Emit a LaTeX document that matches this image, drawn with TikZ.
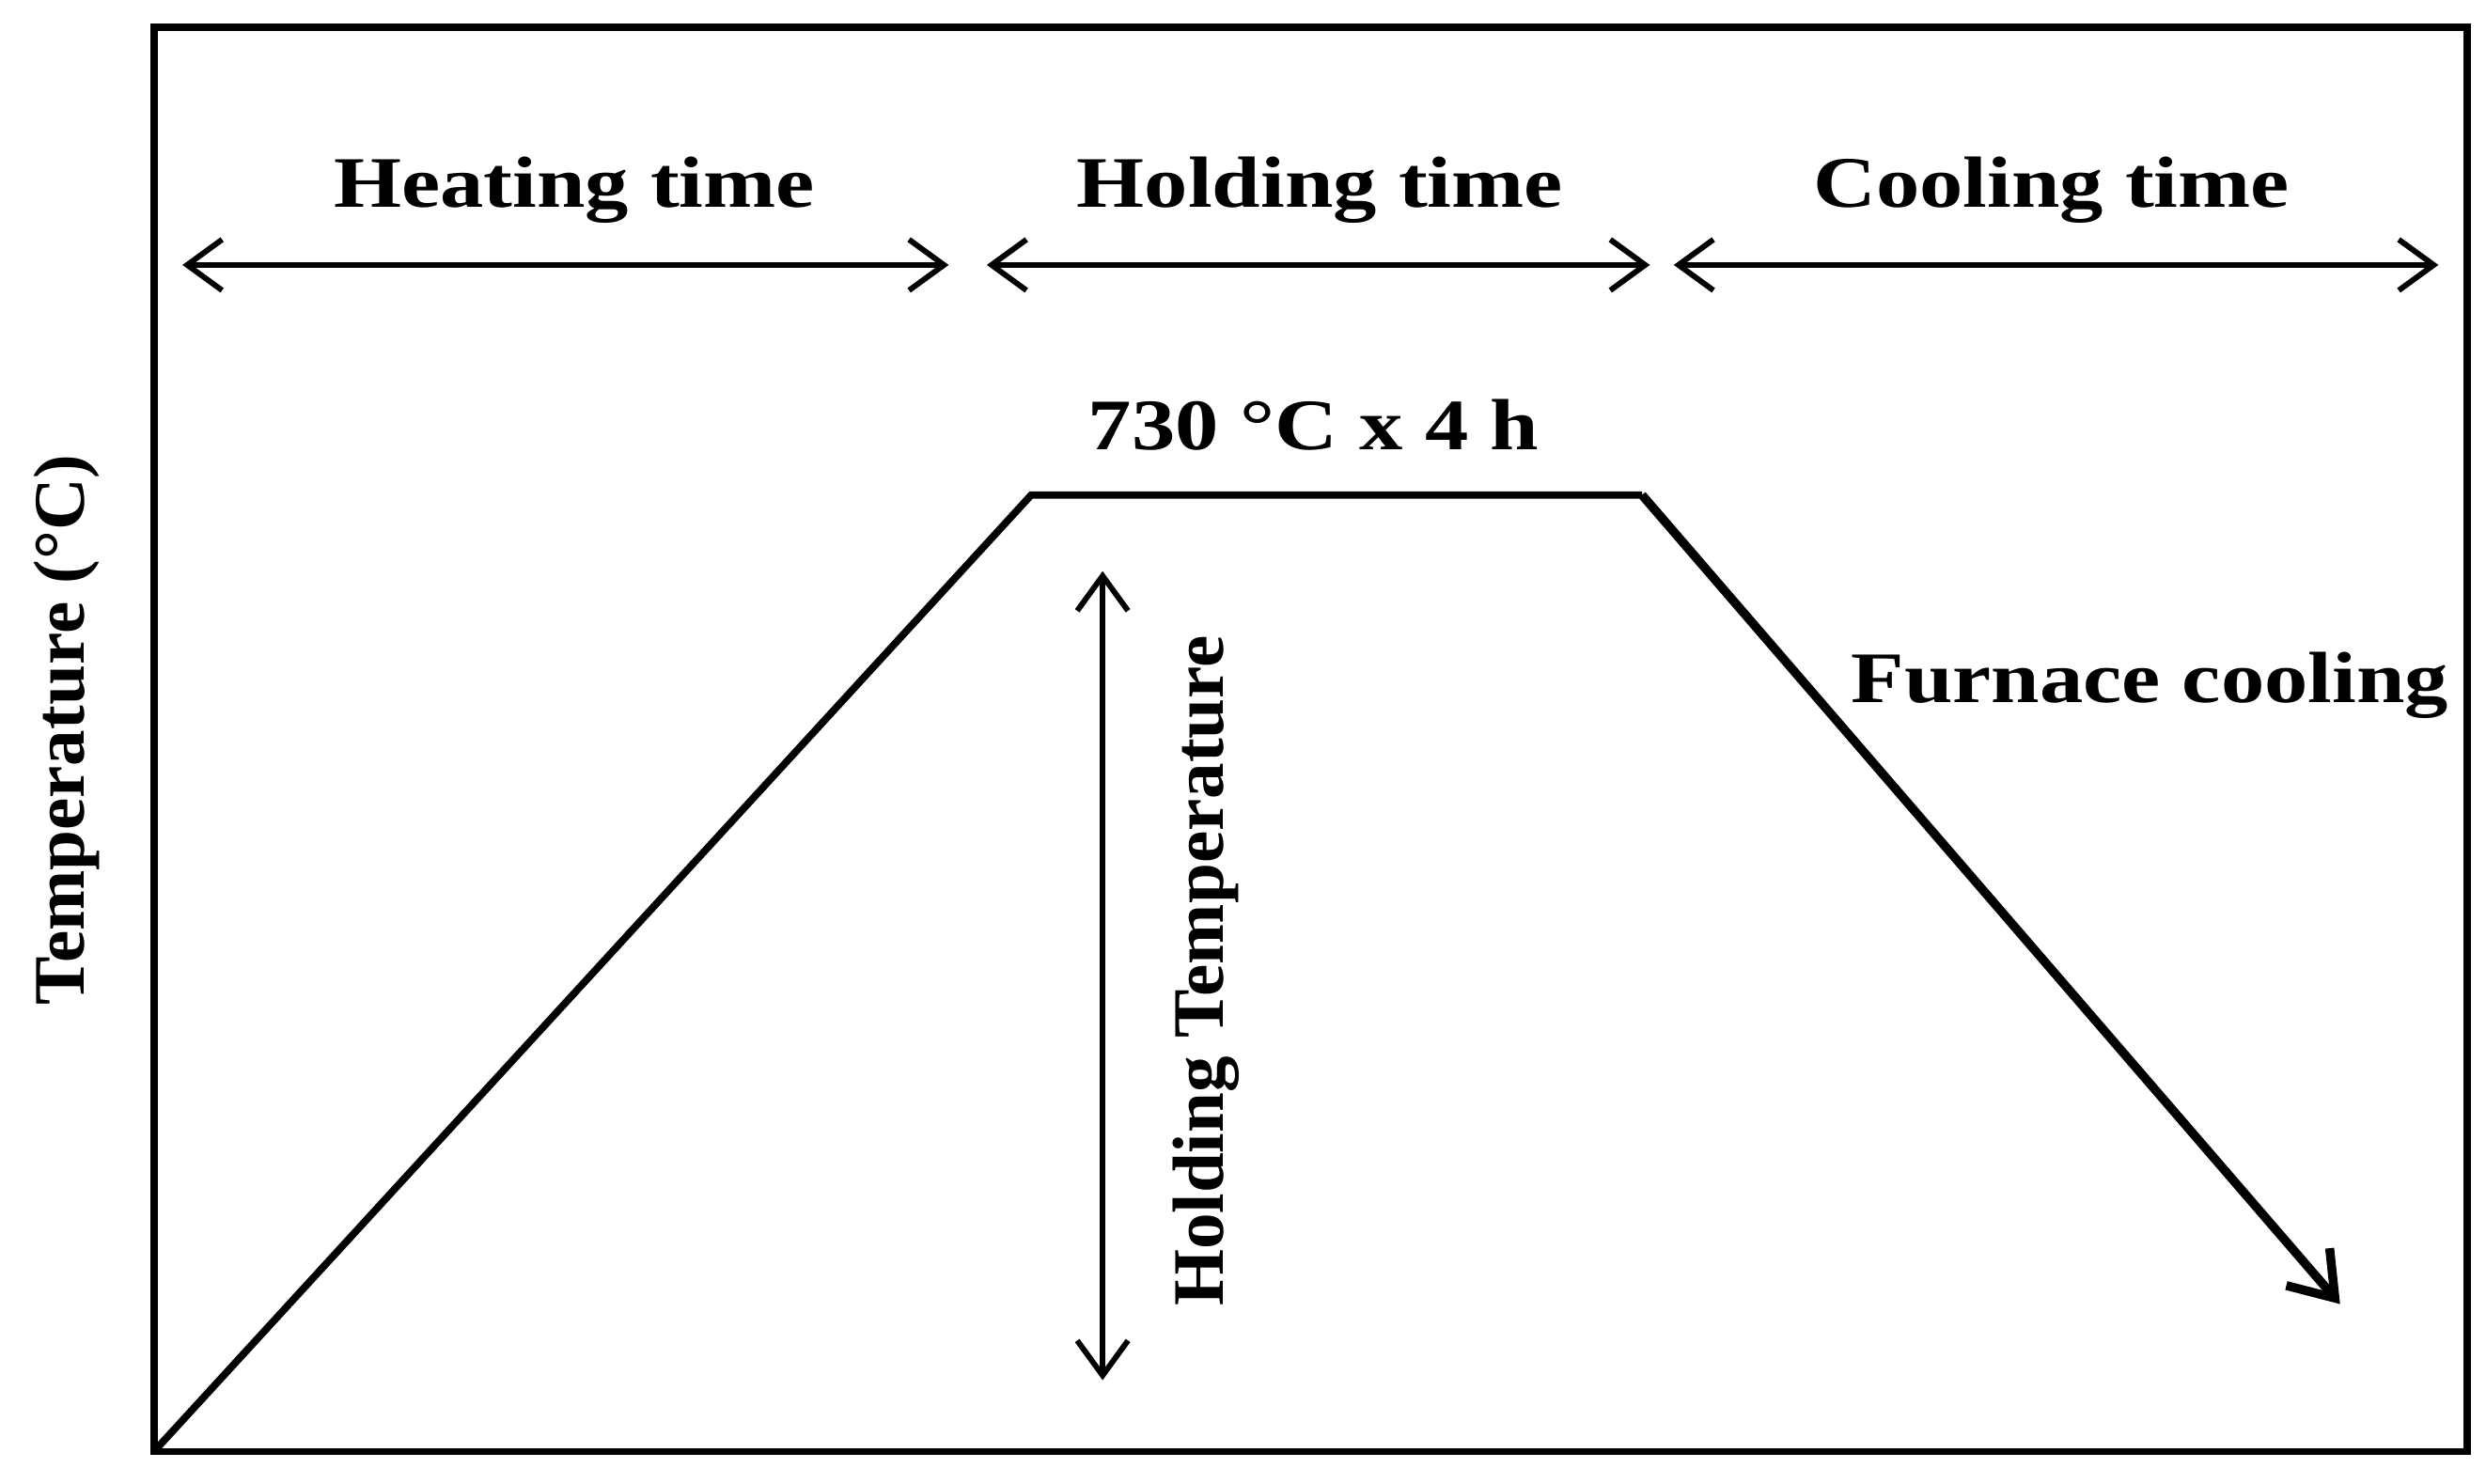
\documentclass[tikz,border=0pt]{standalone}
\usepackage{fontspec}
\setmainfont{Liberation Serif}
\usetikzlibrary{arrows.meta}
\begin{document}
\begin{tikzpicture}[x=0.01cm,y=-0.01cm,
  lbl/.style={font=\fontsize{13}{15}\selectfont\bfseries,inner sep=0pt},
  hlbl/.style={lbl,xscale=1.2},
  dbl/.style={line width=1pt,{Straight Barb[length=2.2mm,width=3.2mm]}-{Straight Barb[length=2.2mm,width=3.2mm]}}]
\useasboundingbox (0,0) rectangle (1567,935);
\draw[line width=1.3pt] (97,17) rectangle (1555,915);
\coordinate (h1) at (115,167); \coordinate (h2) at (598,167);
\coordinate (o1) at (622,167); \coordinate (o2) at (1040,167);
\coordinate (c1) at (1055,167); \coordinate (c2) at (1537,167);
\draw[dbl] (h1) -- (h2);
\draw[dbl] (o1) -- (o2);
\draw[dbl] (c1) -- (c2);
\node[hlbl] (ht) at (362,120) {Heating time};
\node[hlbl] (ot) at (832,120) {Holding time};
\node[hlbl] (ct) at (1293,120) {Cooling time};
\node[hlbl] (temp) at (828,268) {730 °C x 4 h};
\coordinate (p0) at (97,915); \coordinate (p1) at (650,312);
\coordinate (p2) at (1035,312); \coordinate (p3) at (1475,822);
\draw[line width=1.3pt] (p0) -- (p1) -- (p2);
\draw[line width=1.6pt,-{Straight Barb[length=2.6mm,width=3.6mm]}] (p2) -- (p3);
\coordinate (v1) at (695,360); \coordinate (v2) at (695,870);
\draw[dbl] (v1) -- (v2);
\node[lbl,rotate=90] (htemp) at (760,612) {Holding Temperature};
\node[lbl,rotate=90] (ylab) at (42,460) {Temperature (°C)};
\node[hlbl] (fc) at (1355,432) {Furnace cooling};
\end{tikzpicture}
\end{document}
